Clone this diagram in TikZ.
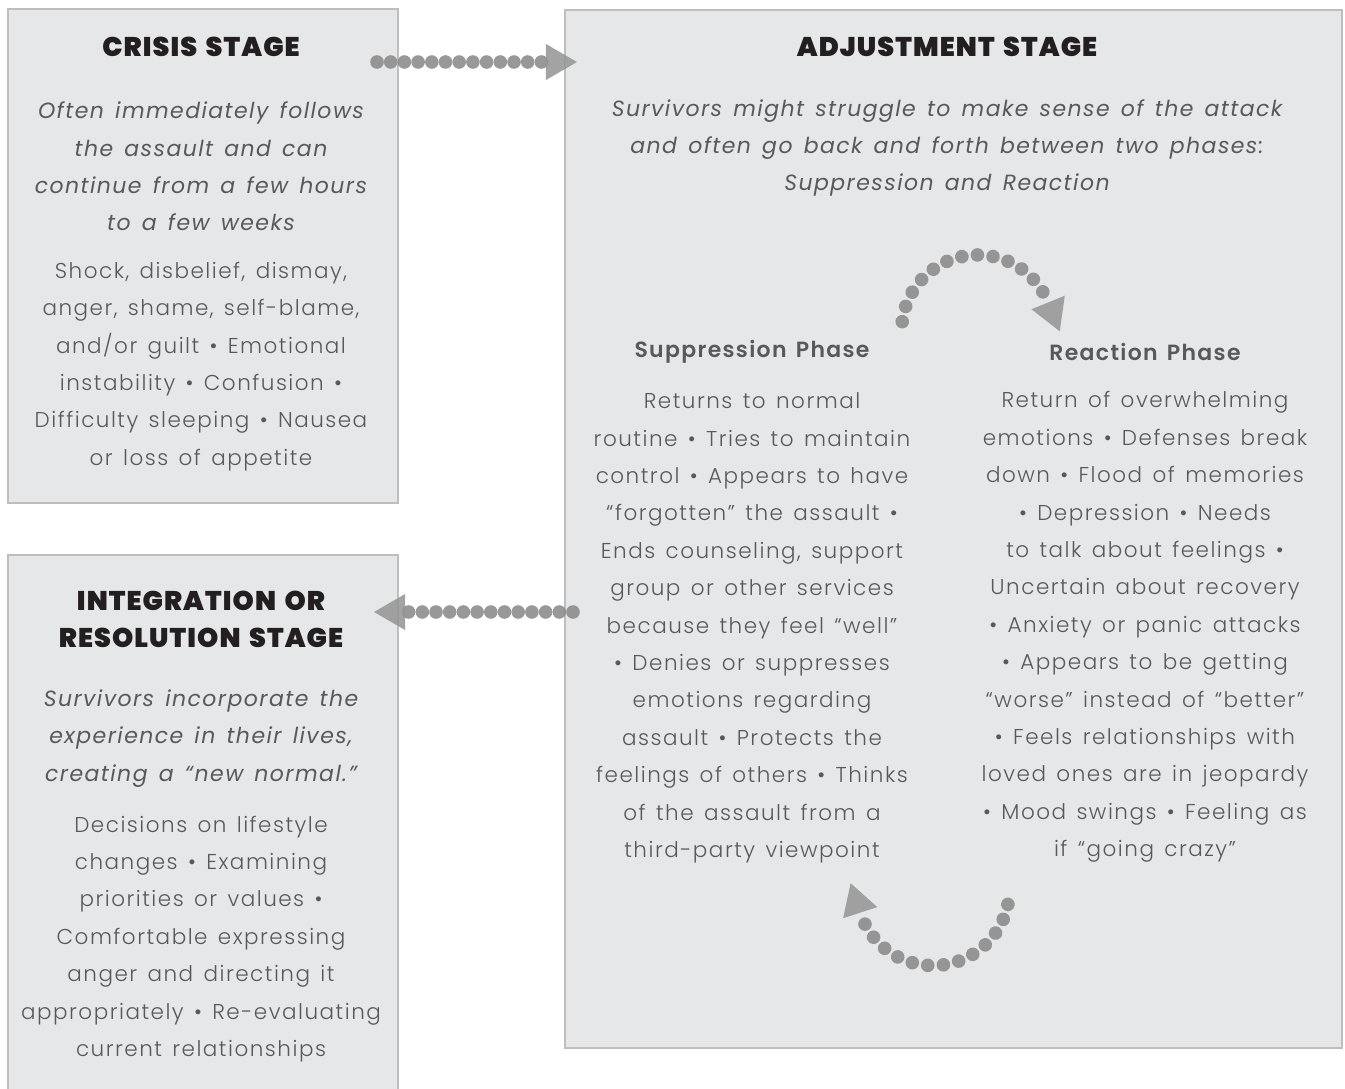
\documentclass[tikz,border=0pt]{standalone}
\usepackage{fontspec}
\setmainfont{Poppins}[UprightFont=* Light, ItalicFont=* Italic, BoldFont=* SemiBold]
\newfontfamily\headfont{Poppins}[UprightFont=* Black, LetterSpace=4, WordSpace=1.5]
\newfontfamily\leadfont{Poppins}[UprightFont=* Italic, LetterSpace=6.5, WordSpace=1.4]
\newfontfamily\bodyfont{Poppins}[UprightFont=* Light, LetterSpace=7, WordSpace=1.4]
\newfontfamily\phasefont{Poppins}[UprightFont=* SemiBold, LetterSpace=6, WordSpace=1.4]
\usetikzlibrary{decorations.markings}

\definecolor{boxfill}{HTML}{E6E7E8}
\definecolor{boxline}{HTML}{BCBEC0}
\definecolor{txtgray}{HTML}{58595B}
\definecolor{headblack}{HTML}{231F20}

\tikzset{
	stagebox/.style = {draw = boxline, fill = boxfill, line width = 2pt, anchor = north west, inner sep = 0pt},
	stagehead/.style = {font = \headfont\fontsize{27}{37.4}\selectfont, text = headblack, align = center},
	phasehead/.style = {font = \phasefont\fontsize{22}{37.4}\selectfont, text = txtgray, align = center},
	lead/.style = {font = \leadfont\fontsize{22}{37.4}\selectfont, text = txtgray, align = center},
	body/.style = {font = \bodyfont\fontsize{21.5}{37.4}\selectfont, text = txtgray, align = center},
	bead/.style = {fill = black!47, fill opacity = 0.85},
	beadtip/.style = {fill = black!42, fill opacity = 0.85},
	beadarrow/.style = {
		decoration = {markings,
			mark = between positions 0 and -3pt step #1 with {\fill[bead] (0,0) circle (6.8pt);},
			mark = at position -0.01pt with {\fill[beadtip] (0,18pt) -- (31pt,0) -- (0,-18pt) -- cycle;}},
		postaction = {decorate}}
}

\begin{document}
\begin{tikzpicture}[x = 1pt, y = -1pt]

		\clip (0, 0) rectangle (1345, 1089);
		\fill[white] (0, 0) rectangle (1345, 1089);

		% the three stages
		\node[stagebox, minimum width = 390, minimum height = 494] (crisis) at (7, 8) {};
		\node[stagebox, minimum width = 777, minimum height = 1038] (adjust) at (564, 9) {};
		\node[stagebox, minimum width = 390, minimum height = 545] (integr) at (7, 554) {};

		\node[stagehead] (crisis head) at (201, 47) {CRISIS STAGE};
		\node[lead] (crisis lead) at (201, 166.5) {Often immediately follows\\the assault and can\\continue from a few hours\\to a few weeks};
		\node[body] (crisis body) at (201, 366.5) {Shock, disbelief, dismay,\\anger, shame, self-blame,\\and/or guilt • Emotional\\instability • Confusion •\\Difficulty sleeping • Nausea\\or loss of appetite};

		\node[stagehead] (adjust head) at (947, 47) {ADJUSTMENT STAGE};
		\node[lead] (adjust lead) at (947, 148) {Survivors might struggle to make sense of the attack\\and often go back and forth between two phases:\\Suppression and Reaction};

		\node[phasehead] (supp head) at (752, 352) {Suppression Phase};
		\node[body] (supp body) at (752, 628) {Returns to normal\\routine • Tries to maintain\\control • Appears to have\\“forgotten” the assault •\\Ends counseling, support\\group or other services\\because they feel “well”\\• Denies or suppresses\\emotions regarding\\assault • Protects the\\feelings of others • Thinks\\of the assault from a\\third-party viewpoint};

		\node[phasehead] (react head) at (1145, 352) {Reaction Phase};
		\node[body] (react body) at (1145, 627) {Return of overwhelming\\emotions • Defenses break\\down • Flood of memories\\• Depression • Needs\\to talk about feelings •\\Uncertain about recovery\\• Anxiety or panic attacks\\• Appears to be getting\\“worse” instead of “better”\\• Feels relationships with\\loved ones are in jeopardy\\• Mood swings • Feeling as\\if “going crazy”};

		\node[stagehead] (integr head) at (201, 619.5) {INTEGRATION OR\\RESOLUTION STAGE};
		\node[lead] (integr lead) at (201, 738.5) {Survivors incorporate the\\experience in their lives,\\creating a “new normal.”};
		\node[body] (integr body) at (201, 939) {Decisions on lifestyle\\changes • Examining\\priorities or values •\\Comfortable expressing\\anger and directing it\\appropriately • Re-evaluating\\current relationships};

		% bead arrows
		\coordinate (crisis out) at (377, 62);
		\coordinate (adjust in) at (546, 62);
		\coordinate (adjust out) at (573, 612);
		\coordinate (integr in) at (405, 612);
		\coordinate (supp top) at (902.2, 321.7);
		\coordinate (react bottom) at (1007.9, 904.4);

		\path[beadarrow = 13.7pt] (crisis out) -- (adjust in);
		\path[beadarrow = 13.7pt] (adjust out) -- (integr in);
		\path[beadarrow = 15.7pt] (supp top) arc[start angle = -173, end angle = -22, radius = 76];
		\path[beadarrow = 15.7pt] (react bottom) arc[start angle = 11.6, end angle = 162, radius = 76.5];

	\end{tikzpicture}
\end{document}
